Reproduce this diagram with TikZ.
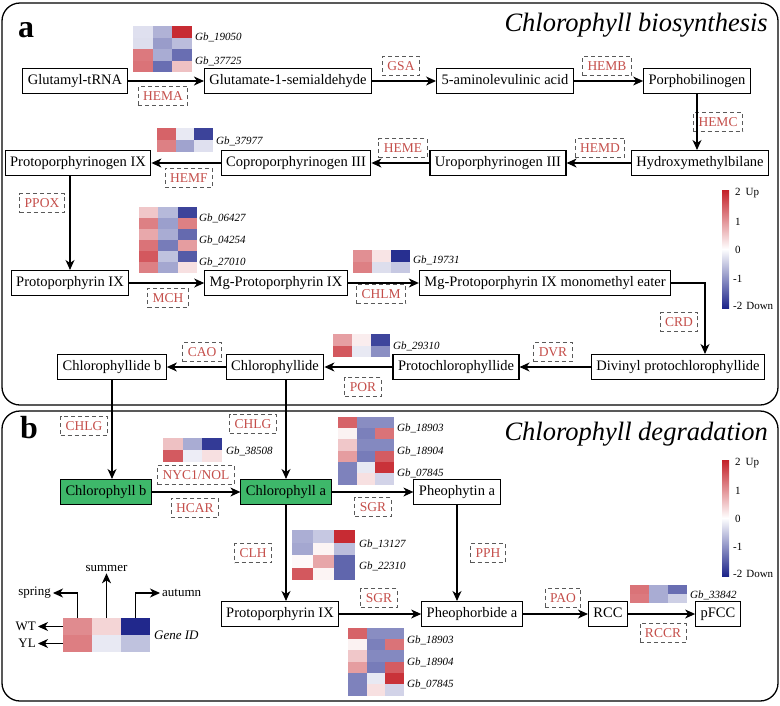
\documentclass[tikz,border=0pt]{standalone}
\usepackage{fontspec}
\setmainfont{Liberation Serif}
\usetikzlibrary{arrows.meta}
\definecolor{hred}{RGB}{196,32,40}
\definecolor{hblue}{RGB}{28,36,138}
\definecolor{enz}{RGB}{196,78,74}
\definecolor{chlgreen}{RGB}{62,184,106}
\newcommand\heatmap[5]{%
  \foreach \ca/\cb/\cc [count=\ri from 0] in {#5}{%
    \fill[fill=\ca] ({#1},{#2+\ri*#4}) rectangle ++({#3+0.4},{#4+0.4});
    \fill[fill=\cb] ({#1+#3},{#2+\ri*#4}) rectangle ++({#3+0.4},{#4+0.4});
    \fill[fill=\cc] ({#1+2*#3},{#2+\ri*#4}) rectangle ++({#3},{#4+0.4});
  }}
\begin{document}
\begin{tikzpicture}[x=1pt,y=-1pt,
  box/.style={draw, line width=1.1pt, fill=white, font=\fontsize{14.5}{16}\selectfont,
    inner xsep=5pt, inner ysep=6pt, text height=10pt, text depth=3pt},
  gbox/.style={box, fill=chlgreen},
  enzb/.style={draw=black!65, dash pattern=on 4pt off 3pt, line width=0.9pt, text=enz,
    font=\fontsize{13.5}{15}\selectfont, inner xsep=5pt, inner ysep=5pt, text height=9pt, text depth=0pt},
  gene/.style={font=\fontsize{11}{13}\selectfont\itshape, anchor=west, inner sep=0pt},
  arr/.style={line width=1.1pt, -{Stealth[length=10pt,width=9pt,inset=3pt]}},
  panel/.style={draw, line width=1.3pt, rounded corners=18pt},
  cbl/.style={font=\fontsize{11}{13}\selectfont, anchor=west, inner sep=0pt},
  ttl/.style={font=\fontsize{26.5}{30}\selectfont\itshape, anchor=base east, inner sep=0pt},
  plab/.style={font=\fontsize{32}{36}\selectfont\bfseries, anchor=base west, inner sep=0pt},
  lgt/.style={font=\fontsize{13}{15}\selectfont, inner sep=2pt},
]
\useasboundingbox (0,0) rectangle (780,705);
% panels
\draw[panel] (2,3) rectangle (778,405);
\draw[panel] (2,411) rectangle (778,701);
\node[plab] (la) at (18,37) {a};
\node[plab] (lb) at (20,438) {b};
\node[ttl] (ta) at (768,31) {Chlorophyll biosynthesis};
\node[ttl] (tb) at (768,440) {Chlorophyll degradation};

% ---------- panel a heatmaps ----------
\heatmap{133}{26}{19.7}{11.5}{hblue!14/hblue!35/hred!95, hblue!15/hblue!45/hblue!30, hred!60/hblue!38/hblue!66, hred!63/hblue!66/hred!28}
\node[gene] (g19050) at (195,37) {Gb\_19050};
\node[gene] (g37725) at (195,61) {Gb\_37725};
\heatmap{157}{128}{18.7}{12}{hred!70/hblue!10/hblue!86, hred!57/hblue!42/hblue!14}
\node[gene] (g37977) at (216,141) {Gb\_37977};
\heatmap{139}{207}{19.3}{11}{hred!25/hblue!32/hblue!86, hred!57/hblue!44/hred!57, hred!39/hblue!38/hblue!68, hred!63/hblue!60/hred!44, hred!75/hblue!28/hblue!75, hred!57/hblue!40/hred!14}
\node[gene] (g06427) at (199,218) {Gb\_06427};
\node[gene] (g04254) at (199,240) {Gb\_04254};
\node[gene] (g27010) at (199,262) {Gb\_27010};
\heatmap{353}{250}{19}{11.5}{hred!50/hred!12/hblue!95, hred!57/hblue!15/hblue!25}
\node[gene] (g19731) at (413,260) {Gb\_19731};
\heatmap{333}{334}{19}{11.5}{hred!43/hred!8/hblue!85, hred!75/hblue!10/hblue!51}
\node[gene] (g29310) at (393,346) {Gb\_29310};

% colour bar a
\shade[top color=hred, bottom color=hblue, middle color=white] (722,190) rectangle (729,308);
\node[cbl] (ca2) at (735,193) {2\hspace{5pt}Up};
\node[cbl] (ca1) at (735,222) {1};
\node[cbl] (ca0) at (735,250) {0};
\node[cbl] (cam1) at (733,279) {-1};
\node[cbl] (cam2) at (733,306) {-2\hspace{4pt}Down};

% ---------- panel a nodes ----------
\node[box] (gtr) at (75,81) {Glutamyl-tRNA};
\node[box] (g1s) at (288,81) {Glutamate-1-semialdehyde};
\node[box] (ala) at (505,81) {5-aminolevulinic acid};
\node[box] (pbg) at (697,81) {Porphobilinogen};
\node[box] (hmb) at (700,163) {Hydroxymethylbilane};
\node[box] (uro) at (498,163) {Uroporphyrinogen III};
\node[box] (cpg) at (296,163) {Coproporphyrinogen III};
\node[box] (ppg) at (78,163) {Protoporphyrinogen IX};
\node[box] (ppix) at (70,283) {Protoporphyrin IX};
\node[box] (mgp) at (276,283) {Mg-Protoporphyrin IX};
\node[box] (mme) at (545,283) {Mg-Protoporphyrin IX monomethyl eater};
\node[box, anchor=east] (dvp) at (765,367) {Divinyl protochlorophyllide};
\node[box] (pch) at (456,367) {Protochlorophyllide};
\node[box] (chd) at (275,367) {Chlorophyllide};
\node[box] (chdb) at (112,367) {Chlorophyllide b};
\coordinate (crdx) at (705,283);

\node[enzb] (eHEMA) at (163,96) {HEMA};
\node[enzb] (eGSA) at (401,66) {GSA};
\node[enzb] (eHEMB) at (607,66) {HEMB};
\node[enzb] (eHEMC) at (718,122) {HEMC};
\node[enzb] (eHEMD) at (600,148) {HEMD};
\node[enzb] (eHEME) at (403,148) {HEME};
\node[enzb] (eHEMF) at (189,178) {HEMF};
\node[enzb] (ePPOX) at (42,203) {PPOX};
\node[enzb] (eMCH) at (168,298) {MCH};
\node[enzb] (eCHLM) at (381,294) {CHLM};
\node[enzb] (eCRD) at (679,322) {CRD};
\node[enzb] (eDVR) at (553,352) {DVR};
\node[enzb] (ePOR) at (363,387) {POR};
\node[enzb] (eCAO) at (202,352) {CAO};
\node[enzb] (eCHLG1) at (84,426) {CHLG};
\node[enzb] (eCHLG2) at (253,424) {CHLG};

\draw[arr] (gtr.east) -- (g1s.west);
\draw[arr] (g1s.east) -- (ala.west);
\draw[arr] (ala.east) -- (pbg.west);
\draw[arr] (pbg.south) -- (pbg.south |- hmb.north);
\draw[arr] (hmb.west) -- (uro.east);
\draw[arr] (uro.west) -- (cpg.east);
\draw[arr] (cpg.west) -- (ppg.east);
\draw[arr] (ppix.north |- ppg.south) -- (ppix.north);
\draw[arr] (ppix.east) -- (mgp.west);
\draw[arr] (mgp.east) -- (mme.west);
\draw[arr] (mme.east) -- (crdx) -- (crdx |- dvp.north);
\draw[arr] (dvp.west) -- (pch.east);
\draw[arr] (pch.west) -- (chd.east);
\draw[arr] (chd.west) -- (chdb.east);

% ---------- panel b ----------
\heatmap{163}{438}{19.7}{12}{hred!28/hblue!38/hblue!90, hred!74/hblue!8/hred!14}
\node[gene] (g38508) at (226,451) {Gb\_38508};
\heatmap{338}{417}{18.7}{11.2}{hred!70/hblue!52/hblue!52, hred!6/hblue!58/hred!63, hred!25/hblue!54/hblue!54, hred!44/hblue!60/hred!73, hblue!57/hblue!10/hred!92, hblue!57/hred!14/hblue!20}
\node[gene] (g18903a) at (397,428) {Gb\_18903};
\node[gene] (g18904a) at (397,451) {Gb\_18904};
\node[gene] (g07845a) at (397,473) {Gb\_07845};
\heatmap{292}{530}{21}{12.5}{hblue!37/hblue!25/hred!95, hblue!40/hred!5/hblue!30, hred!3/hred!40/hblue!70, hred!75/hred!5/hblue!70}
\node[gene] (g13127) at (359,544) {Gb\_13127};
\node[gene] (g22310) at (359,566) {Gb\_22310};
\heatmap{348}{628}{18.7}{11.2}{hred!70/hblue!52/hblue!52, hred!6/hblue!58/hred!63, hred!25/hblue!54/hblue!54, hred!44/hblue!60/hred!73, hblue!57/hblue!10/hred!92, hblue!57/hred!14/hblue!20}
\node[gene] (g18903b) at (407,640) {Gb\_18903};
\node[gene] (g18904b) at (407,662) {Gb\_18904};
\node[gene] (g07845b) at (407,684) {Gb\_07845};
\heatmap{630}{585}{19}{9}{hred!63/hblue!38/hblue!66, hred!60/hblue!38/hblue!22}
\node[gene] (g33842) at (690,595) {Gb\_33842};

% colour bar b
\shade[top color=hred, bottom color=hblue, middle color=white] (722,460) rectangle (729,576);
\node[cbl] (cb2) at (735,463) {2\hspace{5pt}Up};
\node[cbl] (cb1) at (735,491) {1};
\node[cbl] (cb0) at (735,519) {0};
\node[cbl] (cbm1) at (733,547) {-1};
\node[cbl] (cbm2) at (733,574) {-2\hspace{4pt}Down};

\node[gbox] (chlb) at (106,492) {Chlorophyll b};
\node[gbox] (chla) at (286,492) {Chlorophyll a};
\node[box] (phy) at (457,492) {Pheophytin a};
\node[box] (ppix2) at (280,614) {Protoporphyrin IX};
\node[box] (pho) at (472,614) {Pheophorbide a};
\node[box] (rcc) at (608,614) {RCC};
\node[box] (pfcc) at (718,614) {pFCC};

\node[enzb] (eNYC) at (196,475) {NYC1/NOL};
\node[enzb] (eHCAR) at (195,508) {HCAR};
\node[enzb] (eSGR1) at (373,507) {SGR};
\node[enzb] (eCLH) at (253,553) {CLH};
\node[enzb] (ePPH) at (488,553) {PPH};
\node[enzb] (eSGR2) at (379,598) {SGR};
\node[enzb] (ePAO) at (563,598) {PAO};
\node[enzb] (eRCCR) at (663,633) {RCCR};

\draw[arr] (chdb.south) -- (chdb.south |- chlb.north);
\draw[arr] (chla.north |- chd.south) -- (chla.north);
\draw[arr] (chlb.east) -- (chla.west);
\draw[arr] (chla.east) -- (phy.west);
\draw[arr] (chla.south) -- (chla.south |- ppix2.north);
\draw[arr] (phy.south) -- (phy.south |- pho.north);
\draw[arr] (ppix2.east) -- (pho.west);
\draw[arr] (pho.east) -- (rcc.west);
\draw[arr] (rcc.east) -- (pfcc.west);

% legend
\heatmap{63}{618}{29}{17}{hred!52/hred!19/hblue!98, hred!58/hblue!10/hblue!28}
\coordinate (lgs) at (77.5,618);
\coordinate (lgm) at (106.5,618);
\coordinate (lga) at (135.5,618);
\coordinate (lgw) at (63,626.5);
\coordinate (lgy) at (63,643.5);
\node[lgt, anchor=east] (spring) at (53,593) {spring};
\node[lgt] (summer) at (106.5,568) {summer};
\node[lgt, anchor=west] (autumn) at (160,593) {autumn};
\node[lgt, anchor=east] (wt) at (38,626.5) {WT};
\node[lgt, anchor=east] (yl) at (38,643.5) {YL};
\node[lgt, anchor=west, font=\fontsize{13}{15}\selectfont\itshape] (geneid) at (152,635) {Gene ID};
\draw[arr] (lgs) |- (spring.east);
\draw[arr] (lgm) -- (summer.south);
\draw[arr] (lga) |- (autumn.west);
\draw[arr] (lgw) -- (wt.east);
\draw[arr] (lgy) -- (yl.east);
\end{tikzpicture}
\end{document}
